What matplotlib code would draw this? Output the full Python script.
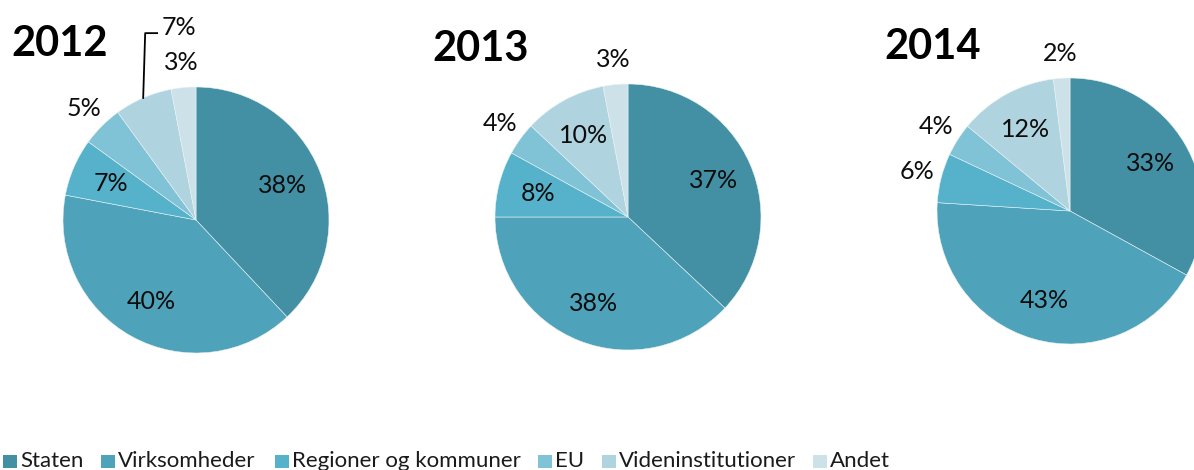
import numpy as np
import matplotlib.pyplot as plt
from matplotlib.patches import Rectangle

plt.rcParams['font.family'] = ['Lato', 'DejaVu Sans']

# Data
years = ['2012', '2013', '2014']
categories = ['Staten', 'Virksomheder', 'Regioner og kommuner', 'EU',
              'Videninstitutioner', 'Andet']
shares_2012 = [38, 40, 7, 5, 7, 3]
shares_2013 = [37, 38, 8, 4, 10, 3]
shares_2014 = [33, 43, 6, 4, 12, 2]
shares = [shares_2012, shares_2013, shares_2014]

# Style
colors = ['#438fa3', '#4ea3bb', '#55b2ca', '#80c2d6', '#afd3df', '#cde1e9']
# where each slice label goes: inside, outside, or outside with leader line
label_pos = [
    ['in', 'in', 'in', 'out', 'lead', 'out'],
    ['in', 'in', 'in', 'out', 'in', 'out'],
    ['in', 'in', 'out', 'out', 'in', 'out'],
]
W, H = 1194, 470
# pie centres and radius in pixels, title baselines
centres = [(196, 220), (628, 217), (1070, 211)]
radius = 133
title_pos = [(11, 56), (432, 61), (884, 59)]

fig = plt.figure(figsize=(W / 100, H / 100), dpi=100)

for i, year in enumerate(years):
    cx, cy = centres[i]
    ax = fig.add_axes([(cx - radius) / W, (H - cy - radius) / H,
                       2 * radius / W, 2 * radius / H])
    wedges, _ = ax.pie(shares[i], colors=colors, startangle=90,
                       counterclock=False, radius=1,
                       wedgeprops=dict(edgecolor='#e8f2f5', linewidth=0.4))
    ax.set_xlim(-1, 1)
    ax.set_ylim(-1, 1)
    ax.set_aspect('equal')
    ax.axis('off')

    for w, v, pos in zip(wedges, shares[i], label_pos[i]):
        mid = np.deg2rad((w.theta1 + w.theta2) / 2)
        txt = f'{v}%'
        if pos == 'in':
            d = 0.70
            ax.text(d * np.cos(mid), d * np.sin(mid), txt, ha='center',
                    va='center', fontsize=18, color='#0d0d0d')
        elif pos == 'out':
            d = 1.19
            ax.text(d * np.cos(mid), d * np.sin(mid), txt, ha='center',
                    va='center', fontsize=18, color='#0d0d0d')
        else:
            x0, y0 = np.cos(mid), np.sin(mid)
            ytop = 1.405
            ax.plot([x0, x0 + 0.015, x0 + 0.105], [y0, ytop, ytop],
                    color='black', lw=1.3, clip_on=False)
            ax.text(x0 + 0.14, ytop + 0.045, txt, ha='left', va='center',
                    fontsize=18, color='#0d0d0d')

    tx, ty = title_pos[i]
    fig.text(tx / W, (H - ty) / H, year, fontsize=30, fontweight='bold',
             ha='left', va='baseline')

# legend squares and labels
legend_x = [3, 101, 275, 538, 602, 813]
for x, c, name in zip(legend_x, colors, categories):
    fig.add_artist(Rectangle((x / W, (H - 468) / H), 14 / W, 13 / H,
                             transform=fig.transFigure, facecolor=c,
                             edgecolor='none'))
    fig.text((x + 17) / W, (H - 467) / H, name, fontsize=16,
             ha='left', va='baseline', color='#1a1a1a')

fig.savefig('out.png', dpi=100)
